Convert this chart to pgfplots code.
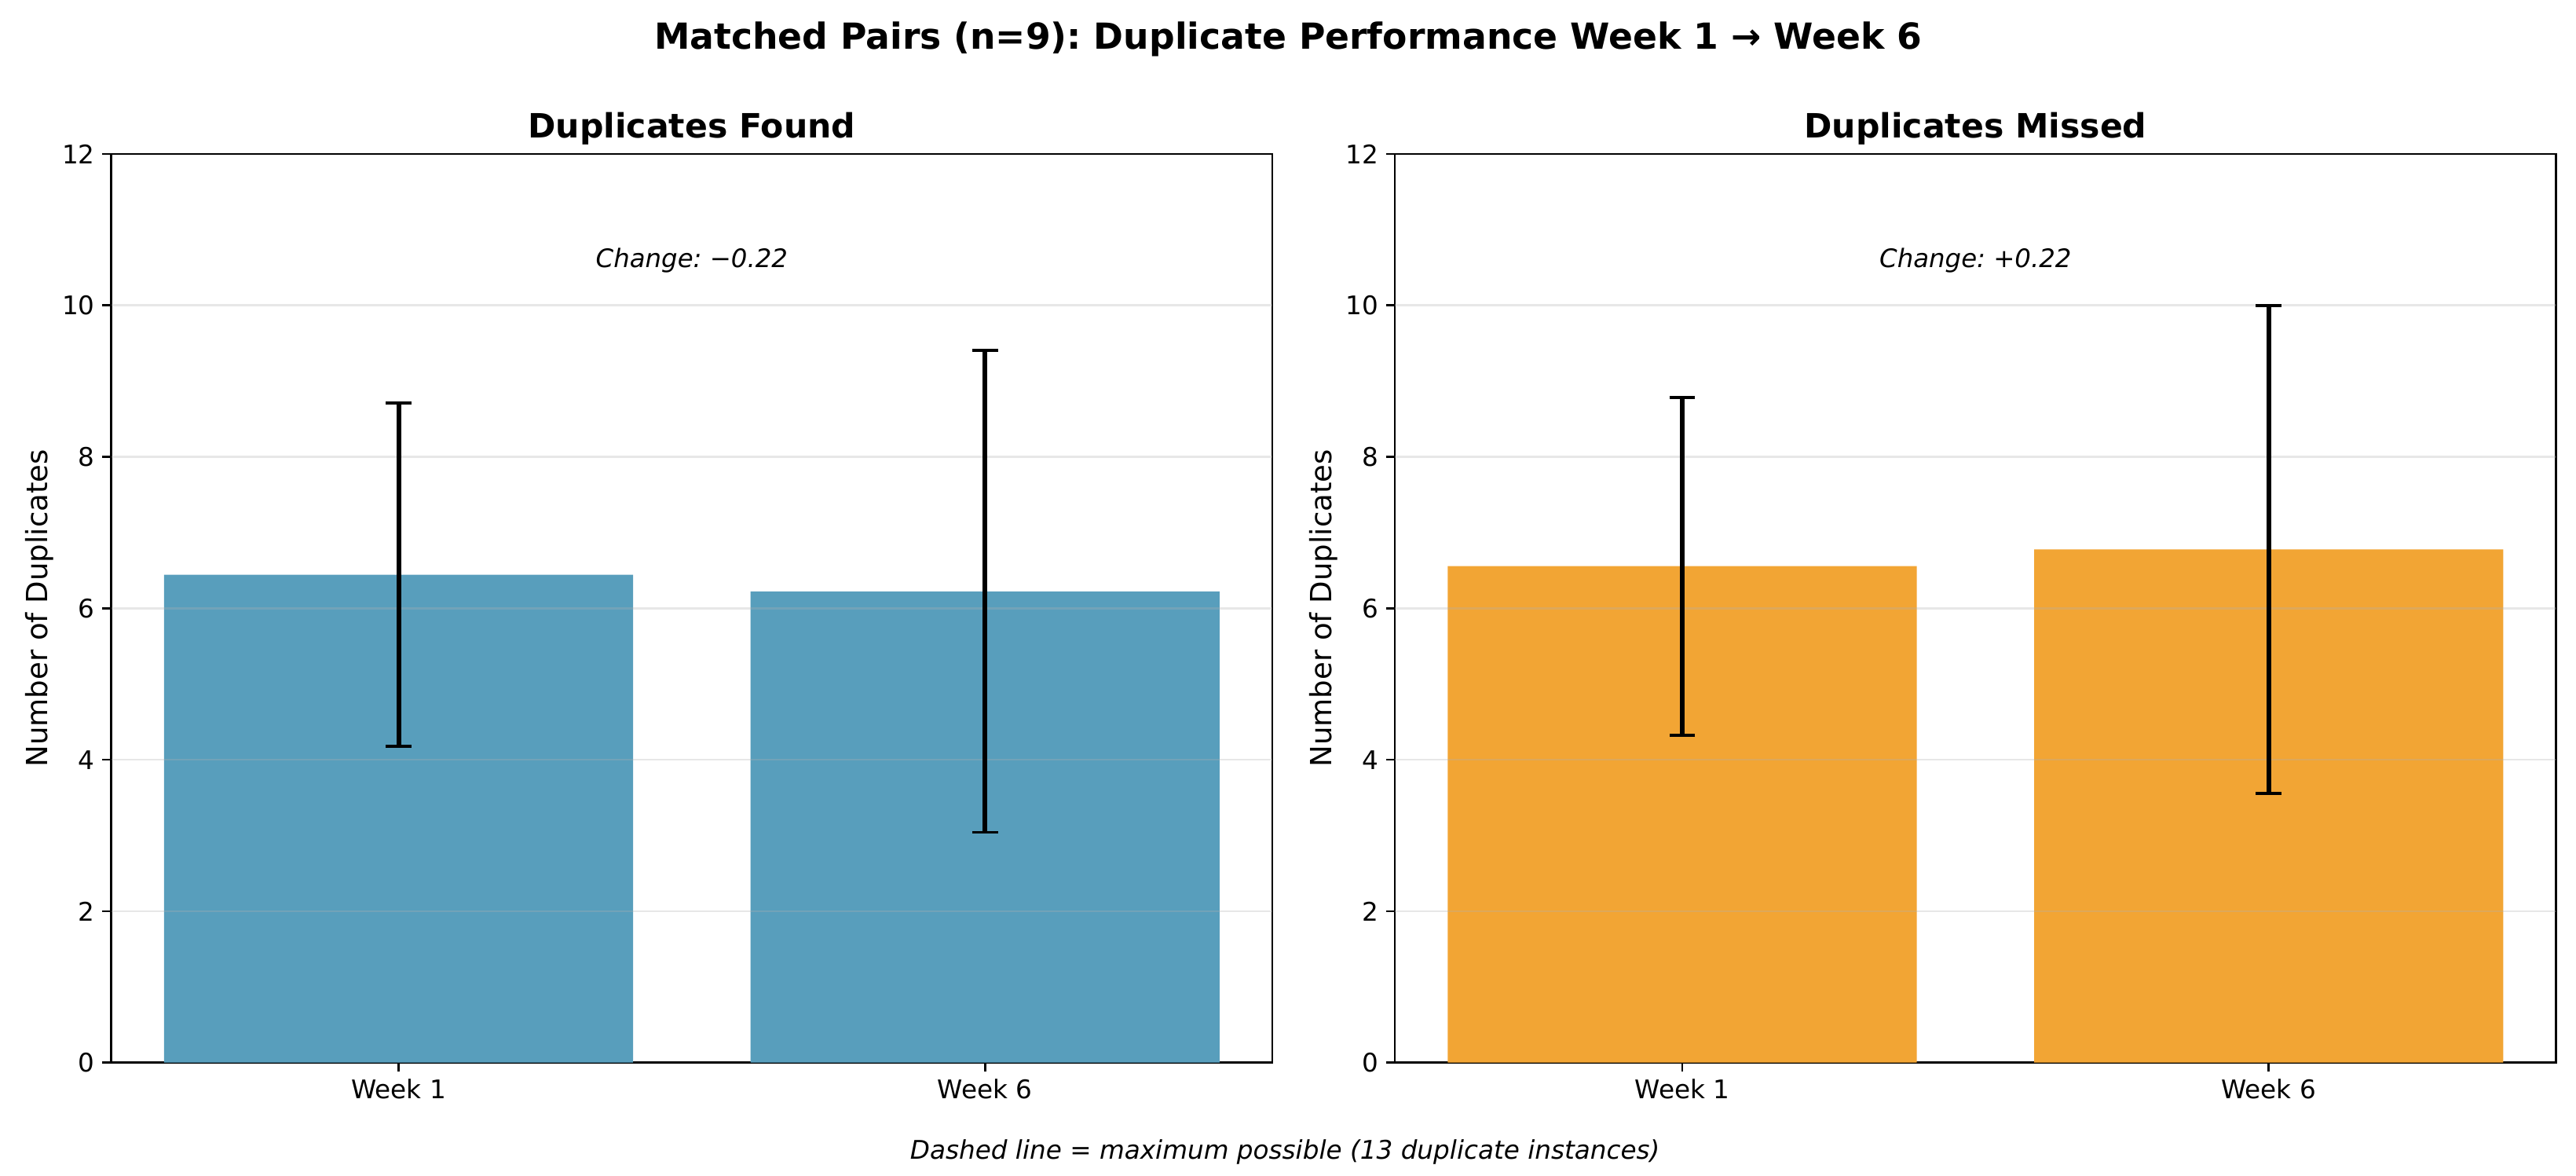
\documentclass[border=0pt]{standalone}
\usepackage{fontspec}
\setmainfont{DejaVu Sans}
\usepackage{pgfplots}
\pgfplotsset{compat=1.18}
\definecolor{found}{RGB}{88,158,188}
\definecolor{missed}{RGB}{242,165,52}
\definecolor{gridc}{RGB}{176,176,176}
\frenchspacing

\pgfplotsset{
  myaxis/.style={
    scale only axis, width=534.2pt, height=418.0pt,
    xmin=-0.49, xmax=1.49, ymin=0, ymax=12,
    xtick={0,1}, xticklabels={Week 1, Week 6},
    ytick={0,2,4,6,8,10,12},
    tick align=outside, major tick length=4.1pt,
    xtick pos=bottom, ytick pos=left,
    tick style={black, line width=0.95pt},
    axis line style={line width=0.95pt},
    tick label style={font=\fontsize{11.8}{14}\selectfont},
    /pgf/number format/assume math mode=true,
    ylabel={Number of Duplicates},
    ylabel shift=-3pt,
    ylabel style={font=\fontsize{13.4}{16}\selectfont},
    title style={font=\fontsize{15.4}{18}\selectfont\bfseries, at={(0.5,1)}, anchor=center, yshift=5.5pt},
  },
  mybar/.style={ybar, bar width=0.8, bar shift=0pt, draw=none},
  mygrid/.style={gridc, opacity=0.3, line width=0.95pt, forget plot},
  myerr/.style={
    ybar, bar width=0.8, bar shift=0pt, draw=none, fill=none, forget plot,
    error bars/.cd, y dir=both, y explicit,
    error bar style={black, solid, line width=2.2pt},
    error mark options={black, solid, line width=1.4pt, mark size=5.9pt, rotate=90},
  }
}

\pgfplotstableread{
x y e
0 6.444 2.27
1 6.222 3.18
}\foundtab
\pgfplotstableread{
x y e
0 6.556 2.23
1 6.778 3.22
}\missedtab

\begin{document}
\begin{tikzpicture}
\useasboundingbox (0,0) rectangle (1185.2pt,540.9pt);
\node[font=\fontsize{16.5}{20}\selectfont\bfseries] at (592.6pt,522.8pt) {Matched Pairs (n=9): Duplicate Performance Week 1 → Week 6};
\node[font=\fontsize{11.8}{14}\selectfont\itshape] at (591.2pt,11.1pt) {Dashed line = maximum possible (13 duplicate instances)};

\begin{axis}[myaxis, at={(51.2pt,52.1pt)}, anchor=south west, title={Duplicates Found}]
\addplot[mybar, fill=found] table[x=x, y=y] {\foundtab};
\pgfplotsinvokeforeach{2,4,6,8,10}{\addplot[mygrid] coordinates {(-0.49,#1) (1.49,#1)};}
\addplot[myerr] table[x=x, y=y, y error=e] {\foundtab};
\node[font=\fontsize{11.7}{14}\selectfont\itshape] at (rel axis cs:0.5,0.883) {Change: −0.22};
\end{axis}

\begin{axis}[myaxis, at={(641.8pt,52.1pt)}, anchor=south west, title={Duplicates Missed}]
\addplot[mybar, fill=missed] table[x=x, y=y] {\missedtab};
\pgfplotsinvokeforeach{2,4,6,8,10}{\addplot[mygrid] coordinates {(-0.49,#1) (1.49,#1)};}
\addplot[myerr] table[x=x, y=y, y error=e] {\missedtab};
\node[font=\fontsize{11.7}{14}\selectfont\itshape] at (rel axis cs:0.5,0.883) {Change: +0.22};
\end{axis}
\end{tikzpicture}
\end{document}
